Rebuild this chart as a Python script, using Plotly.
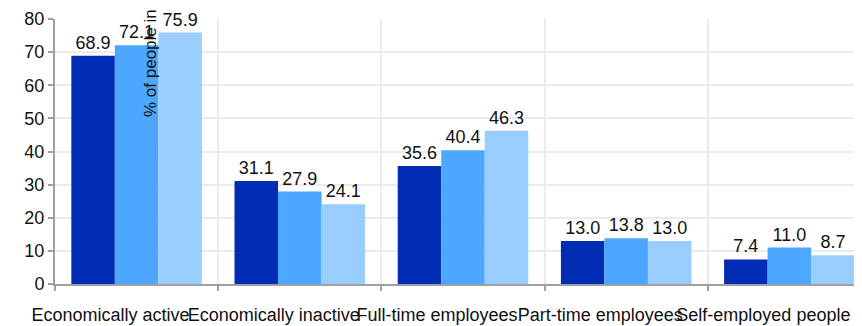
import plotly.graph_objects as go

categories = ["Economically active", "Economically inactive", "Full-time employees",
              "Part-time employees", "Self-employed people"]
series_names = ["Series 1", "Series 2", "Series 3"]
series_values = [
    [68.9, 31.1, 35.6, 13.0, 7.4],
    [72.1, 27.9, 40.4, 13.8, 11.0],
    [75.9, 24.1, 46.3, 13.0, 8.7],
]
colors = ["#002db3", "#4da6ff", "#99ccff"]
y_ticks = [0, 10, 20, 30, 40, 50, 60, 70, 80]
y_title = "% of people in each group"

FONT = "Liberation Sans, Arial, sans-serif"

fig = go.Figure()
for name, vals, col in zip(series_names, series_values, colors):
    fig.add_trace(go.Bar(
        x=categories, y=vals, name=name, marker_color=col, marker_line_width=0,
        text=[f"{v:.1f}" for v in vals], textposition="outside",
        textfont=dict(family=FONT, size=18, color="#111"),
        cliponaxis=False,
    ))

fig.add_annotation(
    text=y_title, textangle=-90, xref="paper", yref="paper",
    x=(142 - 47) / 807, y=(276 - 111) / 265, xanchor="center", yanchor="bottom",
    showarrow=False, font=dict(family=FONT, size=17, color="#111"),
)

fig.update_layout(
    width=854, height=318, autosize=False,
    margin=dict(l=47, r=0, t=11, b=42),
    barmode="group", bargap=0.2, bargroupgap=0,
    plot_bgcolor="white", paper_bgcolor="white",
    showlegend=False,
    font=dict(family=FONT, size=18, color="#111"),
)
fig.update_xaxes(
    range=[-0.5, 4.445], tickson="boundaries", ticks="outside", ticklen=5,
    tickcolor="#a0a0a0", tickwidth=2, showline=True, linecolor="#a0a0a0", linewidth=2,
    showgrid=True, gridcolor="#ebebeb", gridwidth=2, tickangle=0,
    tickfont=dict(size=18), ticklabelstandoff=13, ticklabelshift=-26, automargin=False,
)
fig.update_yaxes(
    range=[0, 80], tickvals=y_ticks, ticks="outside", ticklen=5,
    tickcolor="#a0a0a0", tickwidth=2, showline=True, linecolor="#a0a0a0", linewidth=2,
    showgrid=True, gridcolor="#ebebeb", gridwidth=2, zeroline=False,
    tickfont=dict(size=18), automargin=False,
)
fig.write_html("out.html")
